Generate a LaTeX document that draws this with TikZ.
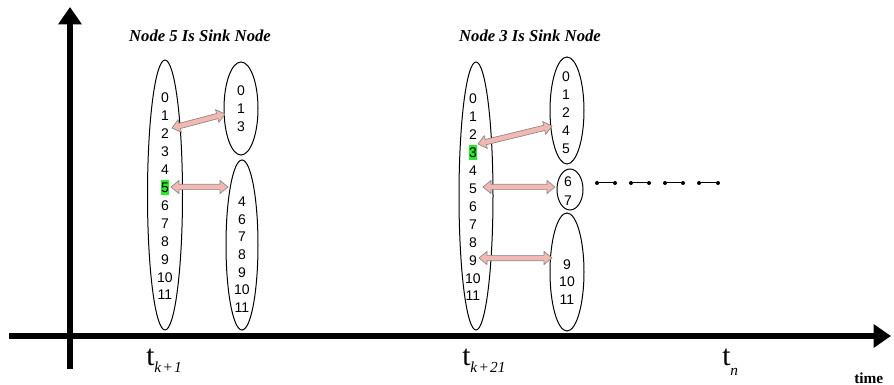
\documentclass[tikz,border=0pt]{standalone}
\usepackage{fontspec}
\setmainfont{Liberation Serif}
\newfontfamily\arialf{Liberation Sans}
\usetikzlibrary{shapes.geometric,arrows.meta,calc}
\definecolor{arrfill}{RGB}{244,184,178}
\definecolor{arrline}{RGB}{135,135,135}
\definecolor{hlgreen}{RGB}{40,235,40}
% double-headed block arrow between two named coordinates
\newcommand\dblarr[2]{%
  \filldraw[arrstyle] (#1)
   -- ($($(#1)!6pt!(#2)$)!4.9pt!90:(#2)$)
   -- ($($(#1)!6pt!(#2)$)!2pt!90:(#2)$)
   -- ($($(#2)!6pt!(#1)$)!2pt!-90:(#1)$)
   -- ($($(#2)!6pt!(#1)$)!4.9pt!-90:(#1)$)
   -- (#2)
   -- ($($(#2)!6pt!(#1)$)!4.9pt!90:(#1)$)
   -- ($($(#2)!6pt!(#1)$)!2pt!90:(#1)$)
   -- ($($(#1)!6pt!(#2)$)!2pt!-90:(#2)$)
   -- ($($(#1)!6pt!(#2)$)!4.9pt!-90:(#2)$)
   -- cycle;}
\newcommand\tlab[2]{{\fontsize{22}{22}\selectfont t}\raisebox{#2}{\fontsize{11.5}{11.5}\selectfont\itshape #1}}
\begin{document}
\begin{tikzpicture}[x=0.75pt,y=-0.75pt,
  axis/.style={line width=4.5pt,-{Triangle[length=13pt,width=17pt]}},
  ell/.style={ellipse,draw,line width=0.75pt,inner sep=0pt},
  num/.style={inner sep=0pt,font=\arialf\fontsize{10.5}{10.5}\selectfont,text height=7.5pt,text depth=0pt},
  numhl/.style={num,fill=hlgreen,inner ysep=2pt,inner xsep=0.3pt},
  ttl/.style={inner sep=0pt,font=\fontsize{12.5}{12.5}\selectfont\bfseries\itshape},
  arrstyle/.style={fill=arrfill,draw=arrline,line width=0.5pt,line join=miter},
  dot/.style={circle,fill,inner sep=0pt,minimum size=3pt},
  seg/.style={line width=0.75pt}]
\useasboundingbox (0,0) rectangle (894,385);

% axes
\coordinate (yb) at (70,369); \coordinate (yt) at (70,7);
\coordinate (xl) at (9,336);  \coordinate (xr) at (891,336);
\draw[axis] (yb) -- (yt);
\draw[axis] (xl) -- (xr);

% titles
\node[ttl] (ttl1) at (200,36) {Node 5 Is Sink Node};
\node[ttl] (ttl2) at (530,36) {Node 3 Is Sink Node};

% ---- group 1 ----
\node[ell,minimum width=26.25pt,minimum height=202.5pt] (e1L) at (165,195) {};
\node[ell,minimum width=25.5pt,minimum height=69.75pt] (e1a) at (241,108.5) {};
\node[ell,minimum width=24pt,minimum height=127.5pt] (e1b) at (242,245) {};
\foreach \v/\s [count=\i from 0] in {0/num,1/num,2/num,3/num,4/num,5/numhl,6/num,7/num,8/num,9/num,10/num,11/num}
  \node[\s] (g1L-\v) at (165,{98+\i*17.9}) {\v};
\foreach \v [count=\i from 0] in {0,1,3}
  \node[num] (g1a-\v) at (241,{91+\i*18}) {\v};
\foreach \v [count=\i from 0] in {4,6,7,8,9,10,11}
  \node[num] (g1b-\v) at (242,{202+\i*17.5}) {\v};

% ---- group 2 ----
\node[ell,minimum width=25.5pt,minimum height=201pt] (e2L) at (476,196) {};
\node[ell,minimum width=25.5pt,minimum height=80.25pt] (e2a) at (567,110.5) {};
\node[ell,minimum width=19.5pt,minimum height=30.75pt] (e2b) at (570,189.5) {};
\node[ell,minimum width=25.5pt,minimum height=88.5pt] (e2c) at (567,272) {};
\foreach \v/\s [count=\i from 0] in {0/num,1/num,2/num,3/numhl,4/num,5/num,6/num,7/num,8/num,9/num,10/num,11/num}
  \node[\s] (g2L-\v) at (473,{99+\i*17.9}) {\v};
\foreach \v [count=\i from 0] in {0,1,2,4,5}
  \node[num] (g2a-\v) at (566,{77+\i*17.8}) {\v};
\foreach \v [count=\i from 0] in {6,7}
  \node[num] (g2b-\v) at (568,{182+\i*18}) {\v};
\foreach \v [count=\i from 0] in {9,10,11}
  \node[num] (g2c-\v) at (567,{264+\i*17.5}) {\v};

% arrow end points
\coordinate (a1s) at (172,128);   \coordinate (a1e) at (225,114);
\coordinate (a2s) at (171,187);   \coordinate (a2e) at (228,187);
\coordinate (a3s) at (478,144);   \coordinate (a3e) at (552,126);
\coordinate (a4s) at (483,187);   \coordinate (a4e) at (555,187);
\coordinate (a5s) at (479,258);   \coordinate (a5e) at (552,258);
\dblarr{a1s}{a1e}
\dblarr{a2s}{a2e}
\dblarr{a3s}{a3e}
\dblarr{a4s}{a4e}
\dblarr{a5s}{a5e}

% dotted continuation
\foreach \a/\b [count=\k] in {597/615,631/649,665/683,699/718}{
  \node[dot] (d\k a) at (\a,183) {};
  \node[dot] (d\k b) at (\b,183) {};
  \draw[seg] (d\k a) -- (d\k b);
}

% axis labels
\node[anchor=base west,inner sep=0pt] (tk1) at (146,365) {\tlab{k\kern1pt+\kern1pt1}{-5.5pt}};
\node[anchor=base west,inner sep=0pt] (tk21) at (462,365) {\tlab{k\kern1pt+\kern1pt21}{-5.5pt}};
\node[anchor=base west,inner sep=0pt] (tn) at (722,365) {\tlab{n}{-8pt}};
\node[anchor=base west,inner sep=0pt,font=\fontsize{11.5}{11.5}\selectfont\bfseries] (tm) at (854,383) {time};
\end{tikzpicture}
\end{document}
